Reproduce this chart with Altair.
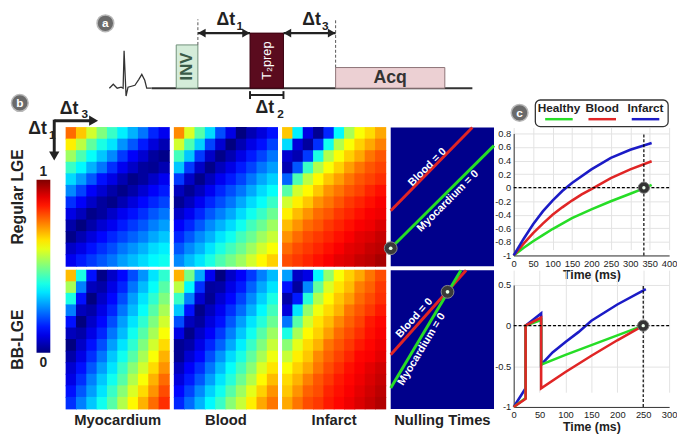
import altair as alt
import pandas as pd

FONT = "Liberation Sans"
INK = "#222222"
GREEN = "#26dd26"
RED = "#e02525"
BLUE = "#1b1bc6"
NAVY = "#00008b"
JET = ["#00007F", "#0000FF", "#007FFF", "#00FFFF", "#7FFF7F",
       "#FFFF00", "#FF7F00", "#FF0000", "#7F0000"]
JET_STOPS = [0, 0.125, 0.25, 0.375, 0.5, 0.625, 0.75, 0.875, 1]

# ---------------- (a) schematic pulse sequence (diagram units) ----------------
BLOCK_NAMES = ["INV", "T2prep", "Acq"]
BLOCK_START = [112, 187, 274]
BLOCK_END = [134, 221, 385]
BLOCK_LEVEL = [44, 56, 21]
BASE_START, BASE_END = 87, 413
ECG_T = [44, 48, 52, 56, 58, 59, 61, 63, 70, 74, 77, 80, 82, 87]
ECG_V = [0, 4, 0, 1, 0, 38, -8, 1, 3, 9, 14, 8, 0, 0]

# ---------------- (b) signal maps, % of max, rows = dt1 (top->bottom), cols = dt3 ----------------
REG_MYO = [
    [77, 68, 58, 50, 43, 36, 30, 24, 16, 11],
    [64, 56, 47, 40, 35, 27, 21, 15, 9, 5],
    [53, 45, 38, 32, 26, 18, 12, 8, 3, 1],
    [43, 37, 30, 24, 17, 11, 7, 3, 2, 5],
    [34, 28, 21, 14, 10, 5, 1, 3, 7, 11],
    [26, 19, 12, 8, 4, 1, 4, 8, 12, 15],
    [17, 12, 7, 3, 1, 5, 9, 13, 16, 19],
    [10, 6, 1, 3, 7, 11, 14, 17, 21, 24],
    [4, 0, 4, 8, 11, 15, 18, 21, 25, 28],
    [1, 5, 9, 13, 16, 19, 22, 25, 29, 32],
    [7, 10, 14, 17, 20, 24, 27, 30, 34, 36],
    [11, 15, 18, 21, 24, 28, 31, 34, 37, 39],
]
REG_BLOOD = [
    [74, 59, 46, 34, 20, 10, 0, 5, 9, 14],
    [58, 45, 33, 19, 8, 0, 5, 10, 14, 19],
    [44, 32, 18, 7, 1, 5, 10, 15, 19, 24],
    [32, 18, 7, 1, 6, 10, 15, 19, 24, 28],
    [18, 7, 1, 6, 11, 15, 19, 24, 29, 33],
    [6, 2, 6, 11, 16, 20, 24, 29, 34, 38],
    [2, 6, 11, 16, 20, 24, 29, 34, 38, 43],
    [7, 11, 16, 21, 25, 29, 34, 39, 43, 48],
    [12, 16, 21, 26, 30, 34, 39, 44, 48, 53],
    [16, 21, 26, 30, 35, 39, 44, 48, 53, 57],
    [21, 26, 30, 35, 40, 44, 48, 53, 58, 62],
    [26, 31, 35, 40, 45, 49, 53, 58, 63, 67],
]
REG_INFARCT = [
    [68, 36, 10, 2, 16, 37, 54, 62, 66, 71],
    [34, 9, 3, 17, 39, 55, 62, 67, 71, 75],
    [8, 5, 18, 40, 55, 62, 67, 71, 76, 79],
    [5, 21, 43, 55, 62, 67, 72, 76, 79, 81],
    [22, 45, 56, 63, 68, 72, 76, 79, 81, 83],
    [46, 58, 63, 68, 73, 76, 79, 81, 84, 86],
    [58, 64, 68, 73, 76, 79, 82, 84, 86, 88],
    [64, 69, 73, 77, 79, 82, 84, 86, 88, 89],
    [69, 73, 77, 79, 82, 84, 86, 88, 89, 91],
    [73, 77, 80, 82, 84, 86, 88, 90, 91, 93],
    [77, 80, 82, 84, 86, 88, 90, 91, 93, 94],
    [80, 82, 84, 86, 88, 90, 91, 93, 94, 96],
]
BB_MYO = [
    [69, 40, 14, 1, 7, 13, 20, 27, 35, 42],
    [54, 25, 6, 4, 10, 16, 24, 31, 38, 46],
    [40, 14, 0, 7, 13, 20, 28, 35, 42, 50],
    [25, 6, 4, 10, 16, 24, 31, 38, 46, 54],
    [14, 0, 7, 13, 20, 28, 35, 42, 50, 58],
    [6, 4, 10, 16, 24, 31, 39, 46, 54, 62],
    [0, 7, 14, 20, 28, 35, 42, 50, 58, 66],
    [4, 10, 17, 24, 32, 39, 46, 54, 62, 70],
    [8, 14, 21, 28, 35, 43, 51, 58, 66, 73],
    [10, 17, 25, 32, 39, 46, 55, 62, 70, 77],
    [14, 21, 28, 35, 43, 51, 59, 66, 73, 80],
    [17, 25, 32, 39, 46, 55, 63, 70, 77, 83],
]
BB_BLOOD = [
    [70, 49, 29, 11, 0, 7, 12, 18, 25, 31],
    [56, 37, 17, 3, 4, 10, 15, 22, 29, 35],
    [43, 25, 8, 2, 8, 13, 19, 26, 33, 40],
    [32, 14, 1, 6, 11, 17, 23, 30, 37, 44],
    [20, 6, 3, 9, 14, 21, 28, 35, 41, 48],
    [10, 1, 7, 12, 18, 25, 32, 39, 46, 53],
    [2, 4, 10, 16, 22, 29, 36, 43, 50, 57],
    [2, 8, 13, 20, 27, 34, 40, 47, 54, 61],
    [6, 12, 17, 24, 31, 38, 44, 51, 59, 65],
    [9, 15, 21, 28, 35, 41, 48, 55, 63, 69],
    [13, 19, 26, 33, 39, 46, 53, 60, 67, 73],
    [16, 23, 30, 37, 43, 51, 57, 64, 71, 76],
]
BB_INFARCT = [
    [28, 7, 10, 37, 52, 62, 67, 71, 76, 80],
    [14, 3, 26, 47, 59, 65, 69, 75, 78, 82],
    [4, 15, 41, 55, 63, 68, 72, 77, 80, 83],
    [9, 35, 52, 61, 66, 70, 76, 79, 82, 85],
    [24, 46, 58, 65, 69, 74, 78, 81, 85, 87],
    [40, 54, 63, 67, 72, 77, 80, 83, 86, 88],
    [51, 60, 66, 70, 76, 79, 82, 85, 87, 89],
    [57, 64, 68, 74, 78, 81, 84, 87, 88, 90],
    [62, 67, 71, 76, 80, 83, 86, 88, 90, 92],
    [66, 70, 75, 79, 82, 85, 87, 89, 91, 93],
    [68, 73, 78, 80, 84, 86, 88, 90, 92, 94],
    [71, 76, 80, 82, 85, 87, 89, 91, 93, 95],
]
# nulling lines (fraction of dt3 range, fraction of dt1 range)
REG_BLOOD_NULL_X = [0.0, 0.79]
REG_BLOOD_NULL_Y = [0.60, 0.0]
REG_MYO_NULL_X = [0.0, 1.0]
REG_MYO_NULL_Y = [0.87, 0.13]
REG_NULL_POINT = [0.0, 0.87]
BB_BLOOD_NULL_X = [0.0, 0.73]
BB_BLOOD_NULL_Y = [0.61, 0.0]
BB_MYO_NULL_X = [0.0, 0.68]
BB_MYO_NULL_Y = [0.85, 0.0]
BB_NULL_POINT = [0.55, 0.156]

# ---------------- (c) longitudinal magnetisation curves ----------------
LEGEND_NAMES = ["Healthy", "Blood", "Infarct"]
REG_HEALTHY_T = [0, 25, 50, 75, 100, 150, 200, 250, 300, 340, 355]
REG_HEALTHY_M = [-1, -0.89, -0.79, -0.70, -0.61, -0.45, -0.32, -0.20, -0.09, 0.0, 0.04]
REG_BLOOD_T = [0, 25, 50, 75, 100, 125, 150, 175, 200, 250, 300, 355]
REG_BLOOD_M = [-1, -0.83, -0.67, -0.53, -0.40, -0.29, -0.19, -0.10, -0.02, 0.14, 0.27, 0.39]
REG_INFARCT_T = [0, 25, 50, 75, 100, 125, 150, 200, 250, 300, 355]
REG_INFARCT_M = [-1, -0.76, -0.54, -0.35, -0.19, -0.05, 0.07, 0.27, 0.44, 0.56, 0.66]
REG_NULL_TIME = 335
BB_HEALTHY_T = [0, 23, 23, 53, 53, 100, 150, 200, 250]
BB_HEALTHY_M = [-1, -0.89, 0, 0.07, -0.48, -0.36, -0.24, -0.12, 0]
BB_BLOOD_T = [0, 23, 23, 53, 53, 100, 150, 200, 250]
BB_BLOOD_M = [-1, -0.90, 0, 0.10, -0.77, -0.57, -0.37, -0.18, 0]
BB_INFARCT_T = [0, 23, 23, 53, 53, 75, 100, 125, 150, 200, 255]
BB_INFARCT_M = [-1, -0.77, 0, 0.15, -0.48, -0.33, -0.20, -0.08, 0.06, 0.26, 0.45]
BB_NULL_TIME = 250

PW, PH = 105, 141
OFF = 21          # page y of the top-row origin is OFF px below the page top
TOP_H = 123 - 4 - OFF


def one():
    return alt.Chart(pd.DataFrame({"k": [0]}))


def px_text(text, x, y, size, color=INK, weight="bold", angle=0):
    props = dict(text=text, fontSize=size, fontWeight=weight, color=color,
                 align="center", baseline="middle")
    if angle:
        props["angle"] = angle
    return one().mark_text(**props).encode(x=alt.value(x), y=alt.value(y))


def px_badge(letter, x, y):
    c = one().mark_point(filled=True, size=290, fill="#6a6a6a", stroke="#b8b8b8",
                         strokeWidth=1.5, opacity=1).encode(x=alt.value(x), y=alt.value(y))
    return [c, px_text(letter, x, y, 12, color="white")]


def spacer(w):
    return one().mark_point(opacity=0, size=1).encode(
        x=alt.value(1), y=alt.value(40)).properties(width=w, height=1)


def jet_scale():
    return alt.Scale(domain=JET_STOPS, range=JET, interpolate="rgb")


COLORBAR = alt.Legend(type="gradient", orient="none", legendX=-30, legendY=176 - OFF, direction="vertical",
                      gradientLength=176, gradientThickness=14, title=None,
                      labelOpacity=0, gradientStrokeWidth=0, padding=0)


def heat_panel(grid, col_label=None, row_label=None):
    rows = [{"c": c, "r": r, "v": v / 100} for r, row in enumerate(grid) for c, v in enumerate(row)]
    rect = alt.Chart(pd.DataFrame(rows)).mark_rect(
        width=alt.RelativeBandSize(band=1.08), height=alt.RelativeBandSize(band=1.08)).encode(
        x=alt.X("c:O", axis=None, scale=alt.Scale(paddingInner=0, paddingOuter=0)),
        y=alt.Y("r:O", axis=None, scale=alt.Scale(paddingInner=0, paddingOuter=0)),
        color=alt.Color("v:Q", scale=jet_scale(), legend=COLORBAR),
    )
    layers = [rect]
    if col_label:
        layers.append(px_text(col_label, PW / 2, PH + 11, 15))
    if row_label:
        layers.append(px_text(row_label, -49, PH / 2, 16, angle=270))
    return alt.layer(*layers).properties(width=PW, height=PH)


def null_panel(bx, by, mx, my, point, blood_lab, myo_lab, col_label=None):
    xs = alt.Scale(domain=[0, 1], nice=False, zero=False)
    ys = alt.Scale(domain=[0, 1], nice=False, zero=False, reverse=True)
    bg = alt.Chart(pd.DataFrame({"x0": [0], "x1": [1], "y0": [0], "y1": [1]})).mark_rect(
        color=NAVY).encode(x=alt.X("x0:Q", scale=xs, axis=None), x2="x1:Q",
                           y=alt.Y("y0:Q", scale=ys, axis=None), y2="y1:Q")

    def seg(xv, yv, col):
        df = pd.DataFrame({"x": xv, "y": yv, "i": range(len(xv))})
        return alt.Chart(df).mark_line(color=col, strokeWidth=3).encode(
            x=alt.X("x:Q", scale=xs, axis=None), y=alt.Y("y:Q", scale=ys, axis=None), order="i:Q")

    pdf = pd.DataFrame({"x": [point[0]], "y": [point[1]]})
    dot = alt.Chart(pdf).mark_point(filled=True, size=170, fill="#3a3a3a", stroke="#8a8a8a",
                                    strokeWidth=1, opacity=1).encode(
        x=alt.X("x:Q", scale=xs, axis=None), y=alt.Y("y:Q", scale=ys, axis=None))
    inner = alt.Chart(pdf).mark_point(filled=True, size=14, color="#e6ffe6", opacity=1).encode(
        x=alt.X("x:Q", scale=xs, axis=None), y=alt.Y("y:Q", scale=ys, axis=None))

    def lab(t, x, y, ang):
        return one().mark_text(text=t, angle=ang, color="white", fontWeight="bold", fontSize=11,
                               align="center", baseline="middle").encode(
            x=alt.XDatum(x, scale=xs, axis=None), y=alt.YDatum(y, scale=ys, axis=None))

    layers = [bg, seg(bx, by, RED), seg(mx, my, GREEN), dot, inner,
              lab("Blood = 0", *blood_lab), lab("Myocardium = 0", *myo_lab)]
    if col_label:
        layers.append(px_text(col_label, PW / 2, PH + 11, 15))
    return alt.layer(*layers).properties(width=PW, height=PH)


# ---------------- top strip: diagram (a) + header of (b) ----------------
DX = alt.Scale(domain=[0, 435], range=[0, 435], nice=False, zero=False)
DY = alt.Scale(domain=[-12, 83], range=[95 - OFF, -OFF], nice=False, zero=False)


def dxy(x, y):
    return dict(x=alt.XDatum(x, scale=DX, axis=None), y=alt.YDatum(y, scale=DY, axis=None))


def d_text(t, x, y, size, color=INK, weight="bold", angle=0):
    props = dict(text=t, fontSize=size, fontWeight=weight, color=color, align="center", baseline="middle")
    if angle:
        props["angle"] = angle
    return one().mark_text(**props).encode(**dxy(x, y))


blocks = pd.DataFrame({"name": BLOCK_NAMES, "s": BLOCK_START, "e": BLOCK_END,
                       "h": BLOCK_LEVEL, "b": [0, 0, 0]})
blocks["mid"] = (blocks["s"] + blocks["e"]) / 2
blocks["half"] = blocks["h"] / 2
fills = {"INV": ("#d4ecd9", "#6f8f78"), "T2prep": ("#5a0b1e", "#3a0010"), "Acq": ("#ecd0d3", "#8c7376")}
dia = []
# invisible anchor fixing the top-left corner of the drawing
dia.append(one().mark_point(opacity=0, size=1).encode(x=alt.value(-57), y=alt.value(-OFF + 8.5)))
dia.append(one().mark_rule(color="#333", strokeWidth=2).encode(
    x=alt.XDatum(BASE_START, scale=DX, axis=None), x2=alt.X2Datum(BASE_END),
    y=alt.YDatum(0, scale=DY, axis=None)))
ecg = pd.DataFrame({"t": ECG_T, "v": ECG_V, "i": range(len(ECG_T))})
dia.append(alt.Chart(ecg).mark_line(color="#333", strokeWidth=1.3).encode(
    x=alt.X("t:Q", scale=DX, axis=None), y=alt.Y("v:Q", scale=DY, axis=None), order="i:Q"))
for nm in BLOCK_NAMES:
    f, s = fills[nm]
    dia.append(alt.Chart(blocks[blocks.name == nm]).mark_rect(fill=f, stroke=s, strokeWidth=1).encode(
        x=alt.X("s:Q", scale=DX, axis=None), x2="e:Q",
        y=alt.Y("h:Q", scale=DY, axis=None), y2="b:Q"))
lab_style = {"INV": dict(text="INV", angle=270, fontSize=17, fontWeight="bold", color="#3b5b48"),
             "T2prep": dict(text="T\u2082prep", angle=270, fontSize=13, fontWeight="normal", color="white"),
             "Acq": dict(text="Acq", fontSize=18, fontWeight="bold", color="#333")}
for nm in BLOCK_NAMES:
    dia.append(alt.Chart(blocks[blocks.name == nm]).mark_text(
        align="center", baseline="middle", **lab_style[nm]).encode(
        x=alt.X("mid:Q", scale=DX, axis=None), y=alt.Y("half:Q", scale=DY, axis=None)))
arrows = pd.DataFrame({"s": [BLOCK_END[0], BLOCK_END[1]], "e": [BLOCK_START[1], BLOCK_START[2]],
                       "lvl": [BLOCK_LEVEL[1]] * 2})
arrows["mid"] = (arrows["s"] + arrows["e"]) / 2
ax = dict(y=alt.Y("lvl:Q", scale=DY, axis=None))
dia.append(alt.Chart(arrows).mark_rule(color=INK, strokeWidth=2.5).encode(
    x=alt.X("s:Q", scale=DX, axis=None), x2="e:Q", **ax))
dia.append(alt.Chart(arrows).mark_point(shape="triangle-left", filled=True, size=80, color=INK,
                                        opacity=1, xOffset=4).encode(
    x=alt.X("s:Q", scale=DX, axis=None), **ax))
dia.append(alt.Chart(arrows).mark_point(shape="triangle-right", filled=True, size=80, color=INK,
                                        opacity=1, xOffset=-4).encode(
    x=alt.X("e:Q", scale=DX, axis=None), **ax))
for i, sub in enumerate(["1", "3"]):
    m = arrows["mid"][i]
    dia.append(d_text("\u0394t", m + 2, 69, 18))
    dia.append(d_text(sub, m + 16, 63, 12))
dash = pd.DataFrame({"x": [BLOCK_END[0], BLOCK_START[2]], "lo": [BLOCK_LEVEL[0], BLOCK_LEVEL[2]], "hi": [70, 70]})
dia.append(alt.Chart(dash).mark_rule(color="#555", strokeWidth=1, strokeDash=[3, 2]).encode(
    x=alt.X("x:Q", scale=DX, axis=None), y=alt.Y("lo:Q", scale=DY, axis=None), y2="hi:Q"))
t2 = blocks[blocks.name == "T2prep"].copy()
t2["bl"] = -7
t2["b1"] = -3
t2["b2"] = -11
dia.append(alt.Chart(t2).mark_rule(color=INK, strokeWidth=2).encode(
    x=alt.X("s:Q", scale=DX, axis=None), x2="e:Q", y=alt.Y("bl:Q", scale=DY, axis=None)))
for col in ["s", "e"]:
    dia.append(alt.Chart(t2).mark_rule(color=INK, strokeWidth=2).encode(
        x=alt.X(f"{col}:Q", scale=DX, axis=None), y=alt.Y("b1:Q", scale=DY, axis=None), y2="b2:Q"))
t2mid = float(t2["mid"].iloc[0])
dia.append(d_text("\u0394t", t2mid - 2, -20, 18))
dia.append(d_text("2", t2mid + 14, -26, 12))
dia.append(one().mark_point(filled=True, size=290, fill="#6a6a6a", stroke="#b8b8b8",
                            strokeWidth=1.5, opacity=1).encode(**dxy(40, 66)))
dia.append(d_text("a", 40, 66, 12, color="white"))
# header of (b): axis arrows and colour-bar end labels (pixels from the strip origin)
dia += px_badge("b", -47, 98 - OFF)
dia.append(one().mark_rule(color=INK, strokeWidth=3).encode(
    x=alt.value(-12), x2=alt.value(28), y=alt.value(116 - OFF)))
dia.append(one().mark_point(shape="triangle-right", filled=True, size=110, color=INK, opacity=1).encode(
    x=alt.value(28), y=alt.value(116 - OFF)))
dia.append(one().mark_rule(color=INK, strokeWidth=3).encode(
    x=alt.value(-12), y=alt.value(115 - OFF), y2=alt.value(152 - OFF)))
dia.append(one().mark_point(shape="triangle-down", filled=True, size=110, color=INK, opacity=1).encode(
    x=alt.value(-12), y=alt.value(152 - OFF)))
dia.append(px_text("\u0394t", 3, 104 - OFF, 18))
dia.append(px_text("3", 19, 109 - OFF, 12))
dia.append(px_text("\u0394t", -29, 125 - OFF, 18))
dia.append(px_text("1", -14, 131 - OFF, 12))
dia.append(px_text("1", -23, 168 - OFF, 14))
dia.append(px_text("0", -23, 362 - OFF, 14))
top_strip = alt.layer(*dia).properties(width=105, height=TOP_H)

# ---------------- (c) legend box ----------------
leg = []
leg.append(one().mark_rect(fill="white", stroke="#333", strokeWidth=1.3, cornerRadius=5).encode(
    x=alt.value(22), x2=alt.value(157), y=alt.value(95 - OFF), y2=alt.value(122 - OFF)))
LX = alt.X("name:N", axis=None, scale=alt.Scale(type="point", domain=LEGEND_NAMES, range=[46, 134], padding=0))
leg.append(alt.Chart(pd.DataFrame({"name": LEGEND_NAMES})).mark_text(
    fontSize=12, fontWeight="bold", color=INK, baseline="middle").encode(
    x=LX, y=alt.value(103.5 - OFF), text="name:N"))
for nm, col in zip(LEGEND_NAMES, [GREEN, RED, BLUE]):
    leg.append(alt.Chart(pd.DataFrame({"name": [nm]})).mark_tick(
        orient="horizontal", size=28, thickness=2.5, color=col, opacity=1).encode(
        x=LX, y=alt.value(114.5 - OFF)))
leg += px_badge("c", 6, 108 - OFF)
legend_c = alt.layer(*leg).properties(width=158, height=TOP_H)


def fmt_expr():
    return "datum.value < 0 ? '-' + format(-datum.value, '~g') : format(datum.value, '~g')"


def curve_chart(series, x_dom, x_vals, y_dom, y_vals, null_t, h, top):
    xs = alt.Scale(domain=x_dom, nice=False, zero=False)
    ys = alt.Scale(domain=y_dom, range=[h, top], nice=False, zero=False)
    xa = alt.Axis(values=x_vals, title="Time (ms)", grid=True, gridColor="#e2e2e2", domainColor="#333",
                  ticks=False, labelFontSize=9.5, labelColor=INK, titleFontSize=12.5, titleFontWeight="bold",
                  titleColor=INK, titlePadding=1, labelPadding=3, labelFlush=False, labelOverlap=False)
    ya = alt.Axis(values=y_vals, title=None, grid=True, gridColor="#e2e2e2", domainColor="#333",
                  ticks=False, labelFontSize=9.5, labelColor=INK, labelPadding=3, labelExpr=fmt_expr(),
                  labelOverlap=False, labelFlush=False)
    layers = []
    for t, m, col in series:
        df = pd.DataFrame({"t": t, "m": m, "i": range(len(t))})
        layers.append(alt.Chart(df).mark_line(color=col, strokeWidth=2.6).encode(
            x=alt.X("t:Q", scale=xs, axis=xa), y=alt.Y("m:Q", scale=ys, axis=ya), order="i:Q"))
    layers.append(one().mark_rule(color="black", strokeWidth=1.2, strokeDash=[3, 2]).encode(
        x=alt.XDatum(x_dom[0], scale=xs, axis=xa), x2=alt.X2Datum(x_dom[1]),
        y=alt.YDatum(0, scale=ys, axis=ya)))
    layers.append(one().mark_rule(color="black", strokeWidth=1.2, strokeDash=[3, 2]).encode(
        x=alt.XDatum(null_t, scale=xs, axis=xa),
        y=alt.YDatum(y_dom[0], scale=ys, axis=ya), y2=alt.Y2Datum(y_dom[1])))
    ndf = pd.DataFrame({"t": [null_t], "m": [0.0]})
    layers.append(alt.Chart(ndf).mark_point(filled=True, size=130, fill="#333", stroke="#777",
                                            strokeWidth=1, opacity=1).encode(
        x=alt.X("t:Q", scale=xs, axis=xa), y=alt.Y("m:Q", scale=ys, axis=ya)))
    layers.append(alt.Chart(ndf).mark_point(filled=True, size=12, color="#f0fff0", opacity=1).encode(
        x=alt.X("t:Q", scale=xs, axis=xa), y=alt.Y("m:Q", scale=ys, axis=ya)))
    return alt.layer(*layers).properties(width=158, height=h)


top_plot = curve_chart(
    [(REG_HEALTHY_T, REG_HEALTHY_M, GREEN), (REG_BLOOD_T, REG_BLOOD_M, RED), (REG_INFARCT_T, REG_INFARCT_M, BLUE)],
    [0, 400], [0, 50, 100, 150, 200, 250, 300, 350, 400], [-1, 0.8],
    [-1, -0.8, -0.6, -0.4, -0.2, 0, 0.2, 0.4, 0.6, 0.8], REG_NULL_TIME, 130, 6)
bottom_plot = curve_chart(
    [(BB_INFARCT_T, BB_INFARCT_M, BLUE), (BB_HEALTHY_T, BB_HEALTHY_M, GREEN), (BB_BLOOD_T, BB_BLOOD_M, RED)],
    [0, 300], [0, 50, 100, 150, 200, 250, 300], [-1, 0.5], [-1, -0.5, 0, 0.5], BB_NULL_TIME, 139, 15)

cells = [
    top_strip, spacer(105), spacer(105), spacer(105), spacer(10), legend_c,
    heat_panel(REG_MYO, row_label="Regular LGE"),
    heat_panel(REG_BLOOD),
    heat_panel(REG_INFARCT),
    null_panel(REG_BLOOD_NULL_X, REG_BLOOD_NULL_Y, REG_MYO_NULL_X, REG_MYO_NULL_Y, REG_NULL_POINT,
               (0.355, 0.286, 315), (0.555, 0.53, 315)),
    spacer(10), top_plot,
    heat_panel(BB_MYO, col_label="Myocardium", row_label="BB-LGE"),
    heat_panel(BB_BLOOD, col_label="Blood"),
    heat_panel(BB_INFARCT, col_label="Infarct"),
    null_panel(BB_BLOOD_NULL_X, BB_BLOOD_NULL_Y, BB_MYO_NULL_X, BB_MYO_NULL_Y, BB_NULL_POINT,
               (0.229, 0.345, 312), (0.30, 0.57, 301), col_label="Nulling Times"),
    spacer(10), bottom_plot,
]

chart = alt.concat(*cells, columns=6, spacing={"row": 4, "column": 5}, bounds="flush",
                   align="each").properties(padding=0).configure(font=FONT).configure_view(stroke=None)

chart.save("out.html", embed_options={"renderer": "svg", "actions": False})
